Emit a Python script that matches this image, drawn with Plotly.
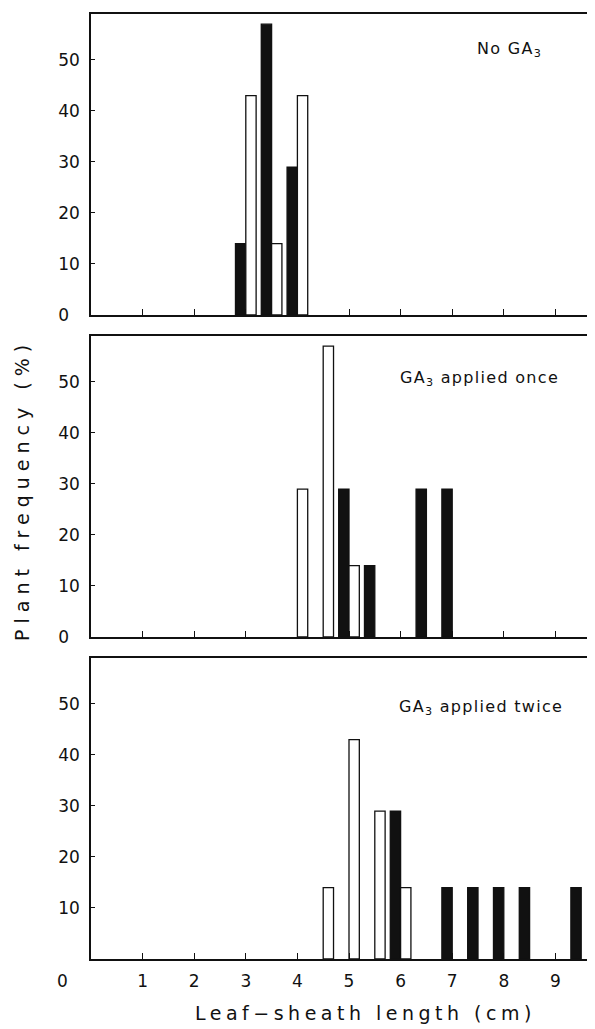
import plotly.graph_objects as go

# ---- data (leaf-sheath length bins in cm, plant frequency in %) ----
top_bins = [3.0, 3.5, 4.0]
top_black = [14, 57, 29]
top_open = [43, 14, 43]

mid_black_bins = [5.0, 5.5, 6.5, 7.0]
mid_black = [29, 14, 29, 29]
mid_open_bins = [4.0, 4.5, 5.0]
mid_open = [29, 57, 14]

bot_black_bins = [6.0, 7.0, 7.5, 8.0, 8.5, 9.5]
bot_black = [29, 14, 14, 14, 14, 14]
bot_open_bins = [4.5, 5.0, 5.5, 6.0]
bot_open = [14, 43, 29, 14]

x_ticks = [1, 2, 3, 4, 5, 6, 7, 8, 9]
y_ticks = [0, 10, 20, 30, 40, 50]
y_ticks_bottom = [10, 20, 30, 40, 50]
panel_titles = ["No GA<sub>3</sub>", "GA<sub>3</sub> applied once", "GA<sub>3</sub> applied twice"]

FONT = "DejaVu Sans"
INK = "#111111"
OFF = 8  # default page body margin
W, H = 600, 1029 - OFF
ML, MR, MT, MB = 91 - OFF, 0, 14 - OFF, 70
PW, PH = W - ML - MR, H - MT - MB

fig = go.Figure()

def add_bars(xs, ys, filled, xa, ya):
    fig.add_trace(go.Bar(
        x=xs, y=ys, width=0.2, offset=-0.2 if filled else 0.0,
        marker=dict(color=INK if filled else "white", line=dict(color=INK, width=1.3)),
        xaxis=xa, yaxis=ya, showlegend=False, hoverinfo="x+y"))

add_bars(top_bins, top_black, True, "x", "y")
add_bars(top_bins, top_open, False, "x", "y")
add_bars(mid_black_bins, mid_black, True, "x2", "y2")
add_bars(mid_open_bins, mid_open, False, "x2", "y2")
add_bars(bot_black_bins, bot_black, True, "x3", "y3")
add_bars(bot_open_bins, bot_open, False, "x3", "y3")

panel_h = 301
gap = 21
def dom(i):
    top_px = i * (panel_h + gap)
    bot_px = top_px + panel_h
    return [1 - bot_px / PH, 1 - top_px / PH]

xr = [0, PW / 51.6]
tickfont = dict(family=FONT, size=17, color=INK)

def xax(i, labels):
    return dict(range=xr, domain=[0, 1], anchor="y" + ("" if i == 0 else str(i + 1)),
                showline=True, linecolor=INK, linewidth=1.5, mirror=True,
                ticks="inside", ticklen=6, tickwidth=1, tickcolor=INK,
                tickvals=x_ticks, showticklabels=labels, tickfont=tickfont,
                ticklabelstandoff=6,
                showgrid=False, zeroline=False, fixedrange=True)

def yax(i, vals):
    txt = [("0\u2007" if v == 0 else str(v)) for v in vals]
    return dict(range=[0, 59], domain=dom(i), anchor="x" + ("" if i == 0 else str(i + 1)),
                showline=True, linecolor=INK, linewidth=1.5,
                ticks="inside", ticklen=4, tickwidth=1, tickcolor=INK,
                tickvals=vals, ticktext=txt, tickfont=tickfont,
                ticklabelstandoff=6,
                showgrid=False, zeroline=False, fixedrange=True)

fig.update_layout(
    width=W, height=H,
    margin=dict(l=ML, r=MR, t=MT, b=MB),
    paper_bgcolor="white", plot_bgcolor="white",
    barmode="overlay",
    font=dict(family=FONT, color=INK),
    xaxis=xax(0, False), yaxis=yax(0, y_ticks),
    xaxis2=xax(1, False), yaxis2=yax(1, y_ticks),
    xaxis3=xax(2, True), yaxis3=yax(2, y_ticks_bottom),
)

# positions below are given in reference-image pixels
def px_x(p):
    return (p - 91) / PW

def px_y(p):
    return 1 - (p - 14) / PH

ann = []
ann.append(dict(text="0", x=px_x(62), y=px_y(981), xref="paper", yref="paper",
                showarrow=False, xanchor="center", yanchor="middle", font=tickfont))
ann.append(dict(text='<span style="letter-spacing:4.5px">Leaf\u2212sheath length (cm)</span>',
                x=px_x(365), y=px_y(1013), xref="paper", yref="paper", showarrow=False,
                xanchor="center", yanchor="middle", font=dict(family=FONT, size=19, color=INK)))
ann.append(dict(text='<span style="letter-spacing:6px">Plant frequency (%)</span>',
                x=px_x(22), y=px_y(490), xref="paper", yref="paper", showarrow=False,
                textangle=-90, xanchor="center", yanchor="middle",
                font=dict(family=FONT, size=19, color=INK)))
label_pos = [(475, 50), (398, 378), (397, 707)]
for t, (lx, ly) in zip(panel_titles, label_pos):
    ann.append(dict(text='<span style="letter-spacing:1.3px">' + t + '</span>',
                    x=px_x(lx), y=px_y(ly), xref="paper", yref="paper", showarrow=False,
                    xanchor="left", yanchor="middle", font=dict(family=FONT, size=16, color=INK)))
fig.update_layout(annotations=ann)

fig.write_html("out.html")
